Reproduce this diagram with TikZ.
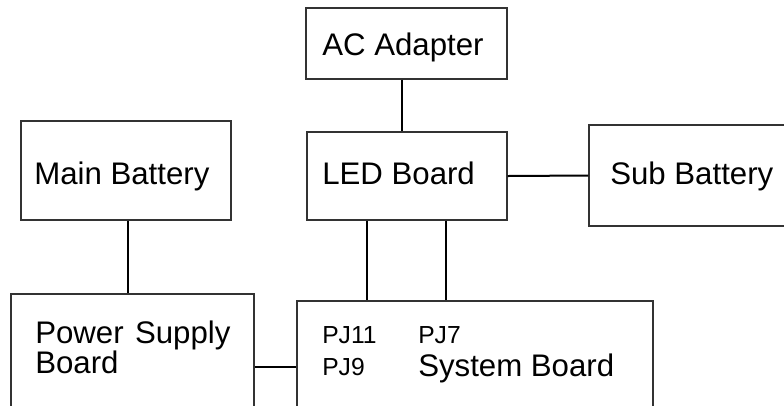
\documentclass[tikz,border=0pt]{standalone}
\usepackage{fontspec}
\setmainfont{Liberation Sans}
\definecolor{boxline}{HTML}{333333}
\begin{document}
\begin{tikzpicture}[x=0.75pt,y=-0.75pt,
  box/.style args={#1x#2}{draw=boxline,line width=0.8pt,rectangle,inner sep=0pt,
    minimum width=#1*0.75pt,minimum height=#2*0.75pt},
  lbl/.style={anchor=base west,inner sep=0pt,font=\fontsize{23.4}{26}\selectfont},
  small/.style={anchor=base west,inner sep=0pt,font=\fontsize{18.5}{21}\selectfont},
  wire/.style={draw=black,line width=1.5pt}]
\clip (0,0) rectangle (784,405);
\fill[white] (0,0) rectangle (784,405);
% boxes
\node[box=201x71] (ac) at (406.5,43.5) {};
\node[box=200x88] (led) at (407,176) {};
\node[box=210x99] (main) at (126,170.5) {};
\node[box=211x101] (sub) at (694.5,175.5) {};
\node[box=243x146] (psb) at (132.5,367) {};
\node[box=356x132] (sys) at (475,367) {};
% texts
\node[lbl] (tac) at (322,55) {AC Adapter};
\node[lbl] (tled) at (322,184) {LED Board};
\node[lbl] (tmain) at (34,184) {Main Battery};
\node[lbl] (tsub) at (610,184) {Sub Battery};
\node[lbl] (tpsb1) at (35,343) {Power\hspace{2pt} Supply};
\node[lbl] (tpsb2) at (35,373) {Board};
\node[lbl] (tsys) at (418,376) {System Board};
\node[small] (pj11) at (322,343) {PJ11};
\node[small] (pj9) at (322,375) {PJ9};
\node[small] (pj7) at (418,343) {PJ7};
% connectors
\draw[wire] ([xshift=-3.375pt]ac.south) -- ([xshift=-3.375pt]ac.south |- led.north);
\draw[wire] (led.east) -- (sub.west);
\draw[wire] ([xshift=-30pt]led.south) -- ([xshift=-30pt]led.south |- sys.north);
\draw[wire] ([xshift=29.25pt]led.south) -- ([xshift=29.25pt]led.south |- sys.north);
\draw[wire] ([xshift=1.5pt]main.south) -- ([xshift=1.5pt]main.south |- psb.north);
\draw[wire] (psb.east) -- (sys.west);
\end{tikzpicture}
\end{document}
